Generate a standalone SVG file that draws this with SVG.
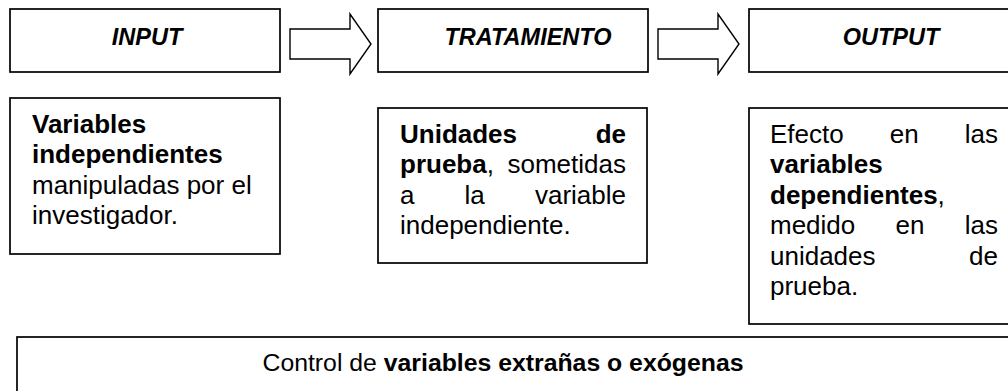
<svg xmlns="http://www.w3.org/2000/svg" width="1008" height="391" viewBox="0 0 1008 391">
<style>
.box{fill:#fff;stroke:#000;stroke-width:1.7}
.arrow{fill:#fff;stroke:#000;stroke-width:1.4;stroke-linejoin:miter}
.title{font-family:"Liberation Sans",Arial,sans-serif;font-size:23.5px;font-weight:bold;font-style:italic;fill:#000;text-anchor:middle}
.t{font-family:"Liberation Sans",Arial,sans-serif;font-size:26px;fill:#000}
.b{font-weight:bold}
.end{text-anchor:end}
.small{font-size:24.8px;text-anchor:middle}
</style>
<rect width="1008" height="391" fill="#fff"/>
<g id="connectors">
<polygon class="arrow" points="290,29 350,29 350,14 371,44 350,74 350,59 290,59"/>
<polygon class="arrow" points="658,29 718,29 718,14 739,44 718,74 718,59 658,59"/>
</g>
<g id="input">
<rect class="box" x="10" y="9" width="270" height="63"/>
<text class="title" x="147" y="45">INPUT</text>
</g>
<g id="tratamiento">
<rect class="box" x="378" y="9" width="270" height="63"/>
<text class="title" x="528" y="45">TRATAMIENTO</text>
</g>
<g id="output">
<rect class="box" x="749" y="9" width="270" height="63"/>
<text class="title" x="891" y="45">OUTPUT</text>
</g>
<g id="variables-independientes">
<rect class="box" x="10" y="98" width="270" height="156"/>
<text class="t b" x="32" y="133">Variables</text>
<text class="t b" x="32" y="163.4">independientes</text>
<text class="t" x="32" y="193.8">manipuladas por el</text>
<text class="t" x="32" y="224.2">investigador.</text>
</g>
<g id="unidades-prueba">
<rect class="box" x="378" y="108" width="269" height="155"/>
<text class="t b" x="400" y="143">Unidades</text>
<text class="t b end" x="626" y="143">de</text>
<text class="t" x="400" y="173.4"><tspan class="b">prueba</tspan>,</text>
<text class="t end" x="626" y="173.4">sometidas</text>
<text class="t" x="400" y="203.8">a</text>
<text class="t" x="464.6" y="203.8">la</text>
<text class="t end" x="626" y="203.8">variable</text>
<text class="t" x="400" y="234.2">independiente.</text>
</g>
<g id="efecto">
<rect class="box" x="749" y="108" width="270" height="216"/>
<text class="t" x="770" y="143">Efecto</text>
<text class="t" x="889.8" y="143">en</text>
<text class="t end" x="998" y="143">las</text>
<text class="t b" x="770" y="173.4">variables</text>
<text class="t" x="770" y="203.8"><tspan class="b">dependientes</tspan>,</text>
<text class="t" x="770" y="234.2">medido</text>
<text class="t" x="895.6" y="234.2">en</text>
<text class="t end" x="998" y="234.2">las</text>
<text class="t" x="770" y="264.6">unidades</text>
<text class="t end" x="998" y="264.6">de</text>
<text class="t" x="770" y="295">prueba.</text>
</g>
<g id="control">
<rect class="box" x="17" y="337" width="1000" height="70"/>
<text class="t small" x="503" y="371">Control de <tspan class="b">variables extrañas o exógenas</tspan></text>
</g>
</svg>
